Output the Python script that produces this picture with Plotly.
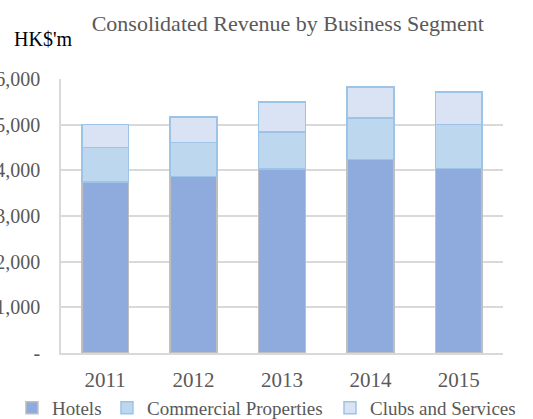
import plotly.graph_objects as go

years = ["2011", "2012", "2013", "2014", "2015"]
hotels = [3750, 3870, 4030, 4240, 4045]
commercial = [750, 745, 810, 905, 955]
clubs = [500, 555, 660, 680, 720]
y_ticks = [0, 1000, 2000, 3000, 4000, 5000, 6000]
y_tick_labels = ["-", "1,000", "2,000", "3,000", "4,000", "5,000", "6,000"]

font_family = "Liberation Serif"
grey = "#595959"

fig = go.Figure()
fig.add_bar(x=years, y=hotels, name="Hotels", legend="legend",
            marker=dict(color="#8FAADC", line=dict(color="#BFBFBF", width=1.5)))
fig.add_bar(x=years, y=commercial, name="Commercial Properties", legend="legend2",
            marker=dict(color="#BDD7EE", line=dict(color="#9DC3E6", width=1.5)))
fig.add_bar(x=years, y=clubs, name="Clubs and Services", legend="legend3",
            marker=dict(color="#DAE3F3", line=dict(color="#9DC3E6", width=1.5)))

legend_common = dict(orientation="h", xref="paper", yref="paper",
                     xanchor="left", y=-0.2, yanchor="middle",
                     font=dict(size=19, color=grey, family=font_family),
                     itemwidth=30, bgcolor="rgba(0,0,0,0)", borderwidth=0)

fig.update_layout(
    barmode="stack",
    bargap=0.47,
    width=533, height=419,
    margin=dict(l=61, r=30, t=79, b=66, autoexpand=False),
    plot_bgcolor="white", paper_bgcolor="white",
    font=dict(family=font_family, color=grey),
    title=dict(text="Consolidated Revenue by Business Segment",
               x=0.540, xanchor="center", y=0.945, yanchor="middle",
               xref="container", yref="container",
               font=dict(size=22, color=grey, family=font_family)),
    showlegend=True,
    legend=dict(x=-0.111, **legend_common),
    legend2=dict(x=0.104, **legend_common),
    legend3=dict(x=0.6086, **legend_common),
    annotations=[dict(text="HK$'m", xref="paper", yref="paper", x=-0.111, y=1.146,
                      xanchor="left", yanchor="middle", showarrow=False,
                      font=dict(size=20, color="black", family=font_family))],
)
fig.update_yaxes(range=[0, 6000], tickvals=y_ticks, ticktext=y_tick_labels,
                 showgrid=True, gridcolor="#D9D9D9", gridwidth=1.5,
                 showline=True, linecolor="#D9D9D9", linewidth=1.5,
                 tickfont=dict(size=20, color=grey, family=font_family), ticks="",
                 automargin=False, ticklabelstandoff=15, zeroline=False)
fig.update_xaxes(showline=True, linecolor="#D9D9D9", linewidth=1.5,
                 tickfont=dict(size=21, color=grey, family=font_family), ticks="",
                 automargin=False, ticklabelstandoff=7)

fig.write_html("out.html", config={"displayModeBar": False},
               post_script="document.body.style.margin='0';")
